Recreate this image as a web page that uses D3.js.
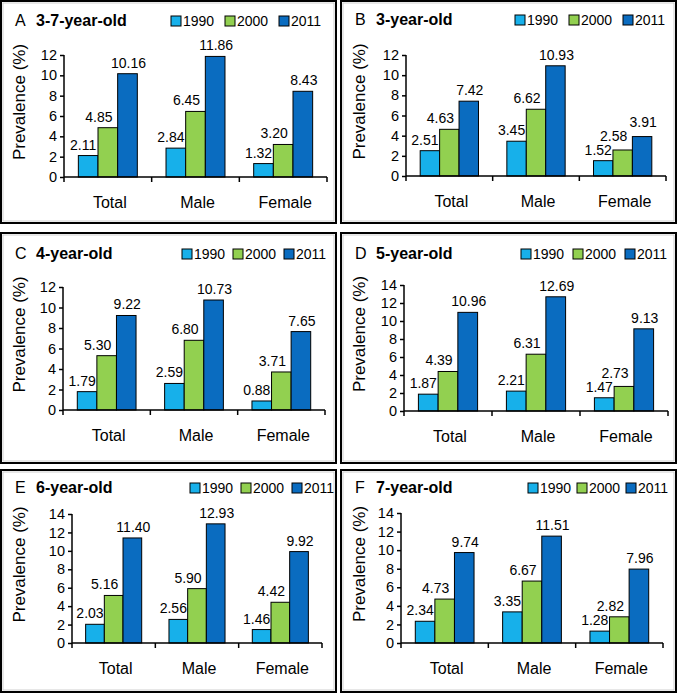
<!DOCTYPE html>
<html>
<head>
<meta charset="utf-8">
<script src="https://cdn.jsdelivr.net/npm/d3@7"></script>
<style>
  body { margin: 0; background: #fff; }
  text { font-family: Arial, "Liberation Sans", sans-serif; fill: #000; }
</style>
</head>
<body>
<div class="container"></div>
<script>
// categories and series
var categories = ["Total", "Male", "Female"];
var years = ["1990", "2000", "2011"];
var letters = ["A", "B", "C", "D", "E", "F"];
var titles = ["3-7-year-old", "3-year-old", "4-year-old", "5-year-old", "6-year-old", "7-year-old"];
var yMax = [12, 12, 12, 14, 14, 14];

// prevalence (%) per panel, [Total, Male, Female]
var prev1990 = [[2.11, 2.84, 1.32], [2.51, 3.45, 1.52], [1.79, 2.59, 0.88], [1.87, 2.21, 1.47], [2.03, 2.56, 1.46], [2.34, 3.35, 1.28]];
var prev2000 = [[4.85, 6.45, 3.20], [4.63, 6.62, 2.58], [5.30, 6.80, 3.71], [4.39, 6.31, 2.73], [5.16, 5.90, 4.42], [4.73, 6.67, 2.82]];
var prev2011 = [[10.16, 11.86, 8.43], [7.42, 10.93, 3.91], [9.22, 10.73, 7.65], [10.96, 12.69, 9.13], [11.40, 12.93, 9.92], [9.74, 11.51, 7.96]];

var colors = ["#17b0ea", "#92d050", "#0a6cc0"];
var labelShift = [-5, -9, 1];
var labelW = 32, labelH = 14;

// frame + plot area of every panel
var frames = [
  {x: 1,   y: 1,   w: 335, h: 222, l: 64,  t: 55,  r: 327, b: 177, ty: 25, lx: 171, ls: 54},
  {x: 341, y: 1,   w: 335, h: 222, l: 406, t: 55,  r: 666, b: 176, ty: 24, lx: 515, ls: 54},
  {x: 1,   y: 233, w: 335, h: 230, l: 63,  t: 287, r: 325, b: 410, ty: 26, lx: 182, ls: 51},
  {x: 341, y: 233, w: 335, h: 230, l: 404, t: 285, r: 668, b: 411, ty: 26, lx: 521, ls: 52},
  {x: 1,   y: 470, w: 335, h: 222, l: 72,  t: 514, r: 322, b: 643, ty: 23, lx: 190, ls: 51},
  {x: 341, y: 470, w: 335, h: 222, l: 401, t: 513, r: 663, b: 643, ty: 23, lx: 528, ls: 49}
];

var svg = d3.select(".container")
    .append("svg")
    .attr("width", 679)
    .attr("height", 694);

frames.forEach(function(f, p) {
    var g = svg.append("g");

    // panel border
    g.append("rect")
        .attr("x", f.x).attr("y", f.y)
        .attr("width", f.w).attr("height", f.h)
        .attr("fill", "none").attr("stroke", "#000").attr("stroke-width", 2);
    g.append("rect")
        .attr("x", f.x + 2).attr("y", f.y + 2)
        .attr("width", f.w - 4).attr("height", f.h - 4)
        .attr("fill", "none").attr("stroke", "#bbb").attr("stroke-width", 0.7);

    var x = d3.scaleBand().domain(categories).range([f.l, f.r]).padding(0);
    var xs = d3.scaleBand().domain(years).range([0, x.bandwidth()]).paddingInner(0).paddingOuter(0.73);
    var y = d3.scaleLinear().domain([0, yMax[p]]).range([f.b, f.t]);

    var rows = categories.map(function(c, i) {
        return {cat: c, vals: [prev1990[p][i], prev2000[p][i], prev2011[p][i]]};
    });

    rows.forEach(function(row) {
        g.selectAll(null)
            .data(row.vals)
            .enter()
            .append("rect")
            .attr("x", (d, k) => x(row.cat) + xs(years[k]))
            .attr("y", d => y(d))
            .attr("width", xs.bandwidth())
            .attr("height", d => y(0) - y(d))
            .attr("fill", (d, k) => colors[k])
            .attr("stroke", "#000")
            .attr("stroke-width", 1);

        // value labels, pushed up when they run into the previous one
        var pos = [];
        row.vals.forEach(function(d, k) {
            var lx = x(row.cat) + xs(years[k]) + xs.bandwidth() / 2 + labelShift[k];
            var ly = y(d) - 6;
            if (k > 0) {
                var prev = pos[k - 1];
                if (Math.abs(prev.x - lx) < labelW && Math.abs(prev.y - ly) < labelH) {
                    ly = Math.min(ly, prev.y - labelH);
                }
            }
            pos.push({x: lx, y: ly, v: d});
        });
        g.selectAll(null)
            .data(pos)
            .enter()
            .append("text")
            .attr("x", d => d.x)
            .attr("y", d => d.y)
            .attr("text-anchor", "middle")
            .style("font-size", "14px")
            .text(d => d.v.toFixed(2));
    });

    // y axis
    var yAxis = d3.axisLeft(y).ticks(yMax[p] / 2).tickSize(4).tickPadding(3);
    var ya = g.append("g").attr("transform", "translate(" + f.l + ",0)").call(yAxis);
    ya.selectAll("line, path").attr("stroke", "#000").attr("stroke-width", 1.5);
    ya.select("path").attr("d", "M0," + f.b + "V" + f.t);
    ya.selectAll("text").style("font-size", "14.5px").attr("fill", "#000");

    // x axis: ticks at category boundaries
    var xa = g.append("g").attr("transform", "translate(0," + f.b + ")");
    xa.append("line").attr("x1", f.l).attr("x2", f.r).attr("stroke", "#000").attr("stroke-width", 1.5);
    var bounds = categories.map(c => x(c)).concat([f.r]);
    xa.selectAll(".xt")
        .data(bounds)
        .enter()
        .append("line")
        .attr("x1", d => d).attr("x2", d => d)
        .attr("y1", 0).attr("y2", 5)
        .attr("stroke", "#000").attr("stroke-width", 1.5);
    xa.selectAll(".xl")
        .data(categories)
        .enter()
        .append("text")
        .attr("x", d => x(d) + x.bandwidth() / 2 + 2)
        .attr("y", 31)
        .attr("text-anchor", "middle")
        .style("font-size", "16px")
        .text(d => d);

    // y label
    g.append("text")
        .attr("transform", "translate(" + (f.x + 24) + "," + ((f.t + f.b) / 2 - 14) + ") rotate(-90)")
        .attr("text-anchor", "middle")
        .style("font-size", "17px")
        .text("Prevalence (%)");

    // title
    g.append("text")
        .attr("x", f.x + 14).attr("y", f.y + f.ty)
        .style("font-size", "16px")
        .text(letters[p]);
    g.append("text")
        .attr("x", f.x + 35).attr("y", f.y + f.ty)
        .style("font-size", "16px").style("font-weight", "bold")
        .text(titles[p]);

    // legend
    years.forEach(function(yr, k) {
        var lx = f.lx + k * f.ls;
        g.append("rect")
            .attr("x", lx).attr("y", f.y + f.ty - 10)
            .attr("width", 10).attr("height", 10)
            .attr("fill", colors[k]).attr("stroke", "#000").attr("stroke-width", 1);
        g.append("text")
            .attr("x", lx + 12).attr("y", f.y + f.ty)
            .style("font-size", "14px")
            .text(yr);
    });
});
</script>
</body>
</html>
